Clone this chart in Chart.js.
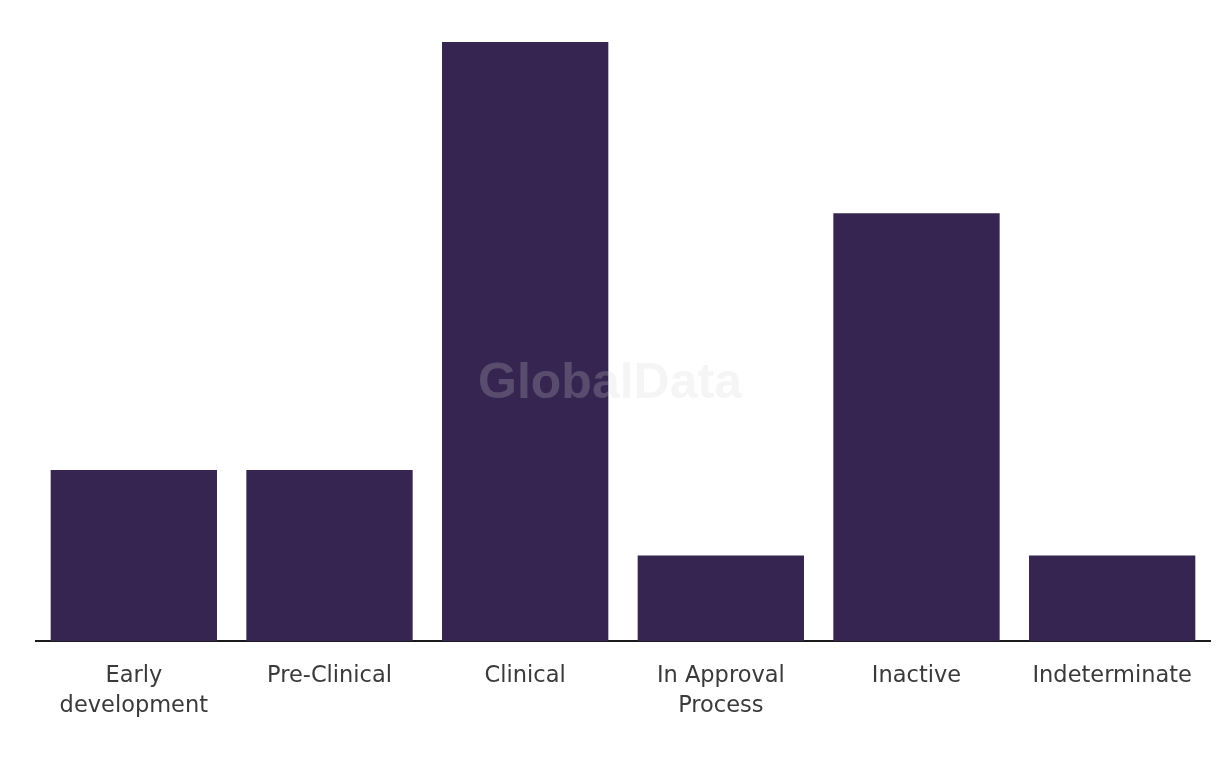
<!DOCTYPE html>
<html>
<head>
<meta charset="utf-8">
<script src="https://cdn.jsdelivr.net/npm/chart.js@4/dist/chart.umd.min.js"></script>
<style>
html,body{margin:0;padding:0;background:#fff;}
#wrap{width:1220px;height:766px;position:relative;}
</style>
</head>
<body>
<div id="wrap"><canvas id="c" width="1220" height="766"></canvas></div>
<script>
const categories = [["Early","development"],"Pre-Clinical","Clinical",["In Approval","Process"],"Inactive","Indeterminate"];
const counts = [2, 2, 7, 1, 5, 1];
const watermarkText = "GlobalData";

const watermark = {
  id: 'watermark',
  afterDatasetsDraw(chart) {
    const ctx = chart.ctx;
    ctx.save();
    ctx.font = 'bold 50px "Liberation Sans", Arial, sans-serif';
    ctx.fillStyle = 'rgba(211,211,211,0.23)';
    ctx.textAlign = 'center';
    ctx.textBaseline = 'middle';
    ctx.fillText(watermarkText, 610, 384);
    ctx.restore();
  }
};

new Chart(document.getElementById('c'), {
  type: 'bar',
  data: {
    labels: categories,
    datasets: [{
      data: counts,
      backgroundColor: '#362451',
      borderWidth: 0,
      barPercentage: 0.85,
      categoryPercentage: 1.0
    }]
  },
  options: {
    responsive: false,
    animation: false,
    layout: { padding: { left: 36, right: 10, top: 42, bottom: 33 } },
    plugins: { legend: { display: false }, tooltip: { enabled: false } },
    scales: {
      x: {
        grid: { display: false },
        border: { display: true, color: '#1a1a1a', width: 2 },
        ticks: {
          color: '#3a3a3a',
          font: { family: '"DejaVu Sans", sans-serif', size: 22.5, lineHeight: 1.33 },
          padding: 12,
          maxRotation: 0,
          autoSkip: false
        }
      },
      y: {
        display: false,
        min: 0,
        max: 7
      }
    }
  },
  plugins: [watermark]
});
</script>
</body>
</html>
